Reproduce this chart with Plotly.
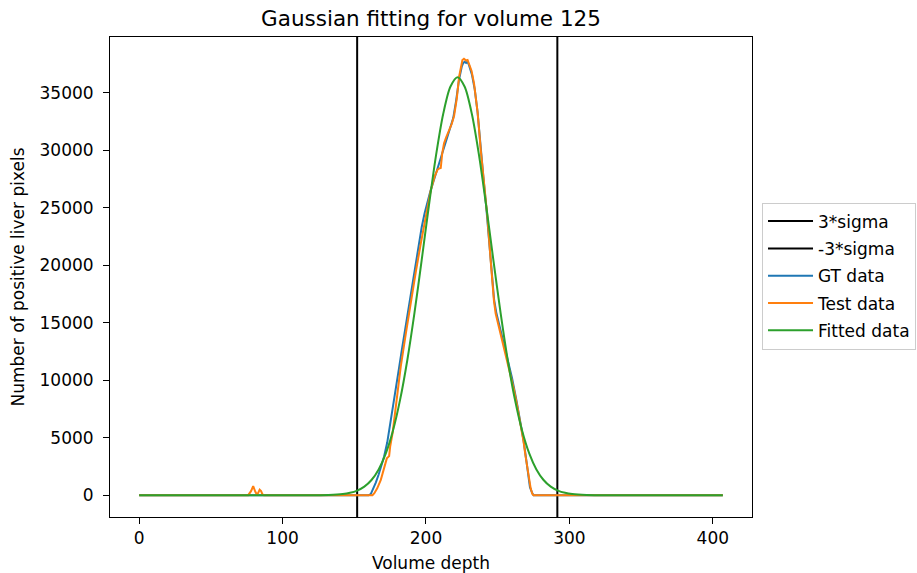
import plotly.graph_objects as go

# ---- data ----
sigma_names = ["3*sigma", "-3*sigma"]
sigma_x = [152.0, 291.6]

gt_x = [0, 160, 161.5, 163, 165, 167, 169, 170.8, 173, 175, 177, 179, 181, 183, 185, 187, 189,
        191, 193, 195, 197, 199, 201, 203, 205, 207, 209, 211, 213, 215, 217, 219, 221, 223,
        225, 226, 227, 228, 229, 230, 232, 234, 236, 238, 240, 242, 244, 246, 247.5, 249, 251,
        254, 257, 260, 263, 266, 268, 270, 271.5, 272.5, 274, 275, 407]
gt_y = [0, 0, 100, 500, 1100, 1800, 2600, 3360, 4600, 6100, 7700, 9300, 10900, 12500, 14100,
        15700, 17300, 18900, 20500, 22000, 23300, 24500, 25500, 26400, 27200, 28000, 28700,
        29600, 30500, 31300, 31900, 32800, 34300, 36100, 37300, 37600, 37700, 37600, 37700,
        37400, 36600, 35300, 33300, 30300, 27700, 25100, 22000, 18800, 17000, 15900, 14900,
        13300, 11800, 10200, 8300, 6300, 4800, 3000, 1600, 700, 200, 0, 0]

test_x = [0, 76, 78, 79.5, 81, 82, 83, 84, 85, 86, 87, 162.7, 164, 166, 168.5, 170, 172.7, 174.3,
          175, 176.7, 179, 182.4, 186, 189.4, 193, 196.4, 200, 203.3, 206, 208, 209, 210.3, 211.3,
          212.6, 214, 216.1, 218, 219.6, 221.5, 223.1, 224.5, 225.4, 226.5, 228, 229, 230, 231.8,
          233.5, 236, 238.2, 240.5, 242.8, 245, 246.3, 247.4, 248.6, 251, 254.4, 258, 261.4, 264,
          266, 268, 269.5, 271, 271.8, 273, 274.2, 275, 407]
test_y = [0, 0, 350, 780, 300, 80, 200, 480, 350, 60, 0, 0, 170, 600, 1330, 2000, 3200, 3400,
          4200, 5390, 7800, 11180, 14100, 16900, 19500, 21900, 24300, 26500, 27700, 28300, 28400,
          28450, 29700, 30600, 31100, 31760, 32300, 33000, 34500, 36390, 37400, 37840, 37950,
          37800, 37850, 37550, 36900, 35820, 33300, 30020, 27200, 24220, 20600, 18300, 16900,
          15800, 14600, 12920, 11000, 9150, 7500, 6260, 4700, 3360, 2000, 1330, 600, 100, 0, 0]

fit_x = [0, 100, 122, 132, 142, 147, 152, 157, 162, 167, 172, 177, 182, 187, 192, 197, 202,
         207, 212, 217, 222, 227, 232, 237, 242, 247, 252, 257, 262, 267, 272, 277, 282, 287,
         292, 297, 302, 312, 322, 344, 407]
fit_y = [0, 0, 4, 21, 100, 205, 400, 742, 1320, 2240, 3635, 5630, 8330, 11760, 15870, 20440,
         25150, 29550, 33150, 35520, 36350, 35520, 33150, 29550, 25150, 20440, 15870, 11760,
         8330, 5630, 3635, 2240, 1320, 742, 400, 205, 100, 21, 4, 0, 0]

x_range = [-20.35, 427.35]
y_range = [-1897, 39848]
x_ticks = [0, 100, 200, 300, 400]
y_ticks = [0, 5000, 10000, 15000, 20000, 25000, 30000, 35000]

FONT = "DejaVu Sans"

fig = go.Figure()
for name, xv in zip(sigma_names, sigma_x):
    fig.add_trace(go.Scatter(x=[xv, xv], y=y_range, mode="lines", name=name, legendgroup=name,
                             line=dict(color="black", width=2)))
fig.add_trace(go.Scatter(x=gt_x, y=gt_y, mode="lines", name="GT data", legendgroup="gt",
                         line=dict(color="#1f77b4", width=2)))
fig.add_trace(go.Scatter(x=test_x, y=test_y, mode="lines", name="Test data", legendgroup="test",
                         line=dict(color="#ff7f0e", width=2)))
fig.add_trace(go.Scatter(x=fit_x, y=fit_y, mode="lines", name="Fitted data", legendgroup="fit",
                         line=dict(color="#2ca02c", width=2, shape="spline", smoothing=0.8)))

axis_common = dict(showline=True, linecolor="black", linewidth=1, mirror=True,
                   ticks="outside", ticklen=6, tickwidth=1, tickcolor="black",
                   showgrid=False, zeroline=False,
                   tickfont=dict(family=FONT, size=17, color="black"))

fig.update_layout(
    width=917, height=573,
    margin=dict(l=110, r=165, t=37, b=56, autoexpand=False),
    paper_bgcolor="white", plot_bgcolor="white",
    font=dict(family=FONT, size=17, color="black"),
    title=dict(text="Gaussian fitting for volume 125", x=431 / 917, xanchor="center",
               y=1 - 18 / 573, yanchor="middle", yref="container",
               font=dict(family=FONT, size=21.5, color="black")),
    xaxis=dict(range=x_range, tickvals=x_ticks, autorange=False,
               title=dict(text="Volume depth", standoff=9,
                          font=dict(family=FONT, size=17, color="black")),
               **axis_common),
    yaxis=dict(range=y_range, tickvals=y_ticks, tickformat="d", autorange=False,
               ticklabelstandoff=6,
               title=dict(text="Number of positive liver pixels", standoff=10,
                          font=dict(family=FONT, size=17, color="black")),
               **axis_common),
    legend=dict(x=1.0156, y=0.502, xanchor="left", yanchor="middle",
                bgcolor="white", bordercolor="#cccccc", borderwidth=1,
                font=dict(family=FONT, size=17, color="black"),
                traceorder="grouped", tracegroupgap=2.2, itemwidth=45),
    showlegend=True,
)

fig.write_html("out.html", config={"displayModeBar": False},
               post_script="document.body.style.margin='0px';")
